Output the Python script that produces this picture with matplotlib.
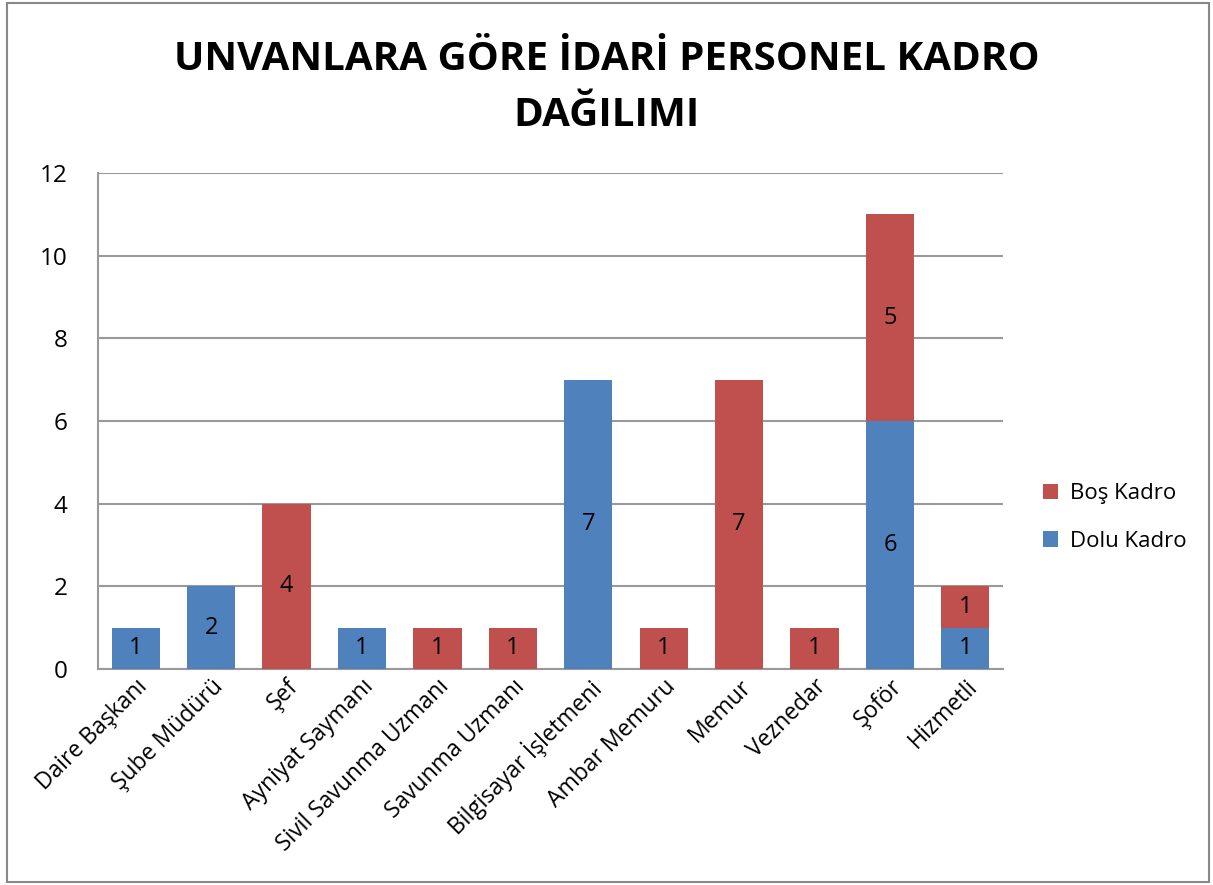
import numpy as np
import matplotlib.pyplot as plt
from matplotlib.patches import Rectangle

plt.rcParams['font.family'] = ['Open Sans', 'DejaVu Sans']

categories = ['Daire Başkanı', 'Şube Müdürü', 'Şef', 'Ayniyat Saymanı',
              'Sivil Savunma Uzmanı', 'Savunma Uzmanı', 'Bilgisayar İşletmeni',
              'Ambar Memuru', 'Memur', 'Veznedar', 'Şoför', 'Hizmetli']
dolu = [1, 2, 0, 1, 0, 0, 7, 0, 0, 0, 6, 1]
bos = [0, 0, 4, 0, 1, 1, 0, 1, 7, 1, 5, 1]

blue = '#4F81BD'
red = '#C0504D'
grid_c = '#999999'

fig = plt.figure(figsize=(12.13, 8.85), dpi=100)
fig.patches.append(Rectangle((0.006, 0.003), 0.991, 0.994, transform=fig.transFigure,
                             fill=False, edgecolor='#888888', linewidth=1.5))
ax = fig.add_axes([0.0808, 0.2441, 0.7461, 0.5604])

x = np.arange(len(categories))
b1 = ax.bar(x, dolu, width=0.64, color=blue, label='Dolu Kadro', zorder=3)
b2 = ax.bar(x, bos, width=0.64, bottom=dolu, color=red, label='Boş Kadro', zorder=3)

for bars, vals in ((b1, dolu), (b2, bos)):
    ax.bar_label(bars, labels=[str(v) if v else '' for v in vals],
                 label_type='center', fontsize=17, color='black', zorder=4)

ax.set_xlim(-0.5, len(categories) - 0.5)
ax.set_ylim(0, 12)
ax.set_yticks(range(0, 13, 2))
ax.yaxis.grid(True, color=grid_c, linewidth=1.5, zorder=0)
ax.set_axisbelow(True)
for s in ('top', 'right'):
    ax.spines[s].set_visible(False)
for s in ('left', 'bottom'):
    ax.spines[s].set_color(grid_c)
    ax.spines[s].set_linewidth(1.5)
ax.tick_params(axis='y', length=0, labelsize=17.5, pad=22)
ax.tick_params(axis='x', length=0, labelsize=16.5, pad=4)
ax.set_xticks(x)
ax.set_xticklabels(categories, rotation=45, ha='right', rotation_mode='anchor')

fig.text(0.5, 0.933, 'UNVANLARA GÖRE İDARİ PERSONEL KADRO', ha='center', va='center',
         fontsize=29, fontweight='bold')
fig.text(0.5, 0.869, 'DAĞILIMI', ha='center', va='center',
         fontsize=29, fontweight='bold')

handles = [b2, b1]
ax.legend(handles, ['Boş Kadro', 'Dolu Kadro'], loc='center left',
          bbox_to_anchor=(1.022, 0.305), frameon=False, fontsize=16,
          handlelength=0.7, handleheight=0.7, labelspacing=1.2, handletextpad=0.5)

fig.savefig('out.png', dpi=100)
